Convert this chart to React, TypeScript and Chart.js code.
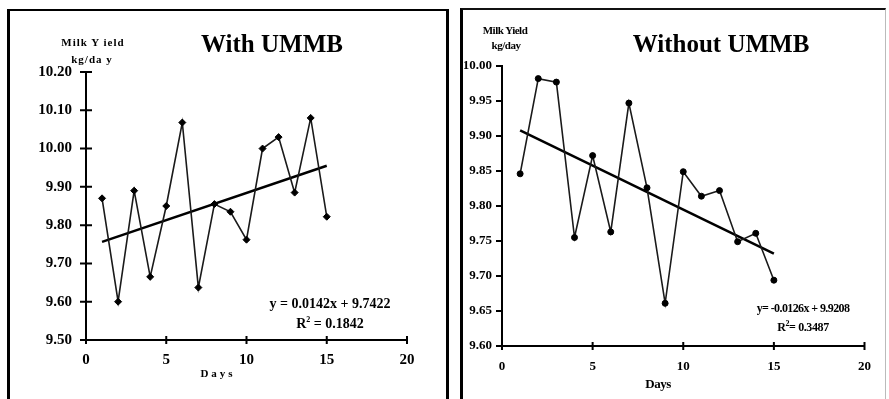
import React, { useEffect, useRef } from "react";
import { Chart, registerables } from "chart.js";

Chart.register(...registerables);

// ---- data ----
const days = [1, 2, 3, 4, 5, 6, 7, 8, 9, 10, 11, 12, 13, 14, 15];
const withUmmb = [9.87, 9.6, 9.89, 9.665, 9.85, 10.068, 9.637, 9.855, 9.835, 9.762, 10.0, 10.03, 9.885, 10.08, 9.822];
const withoutUmmb = [9.846, 9.982, 9.977, 9.755, 9.872, 9.763, 9.947, 9.826, 9.661, 9.849, 9.814, 9.822, 9.749, 9.761, 9.694];

const withSlope = 0.0142;
const withIntercept = 9.7422;
const withR2 = "0.1842";
const withoutSlope = -0.0126;
const withoutIntercept = 9.9208;
const withoutR2 = "0.3487";

const xTicks = [0, 5, 10, 15, 20];
const withYTicks = [9.5, 9.6, 9.7, 9.8, 9.9, 10.0, 10.1, 10.2];
const withoutYTicks = [9.6, 9.65, 9.7, 9.75, 9.8, 9.85, 9.9, 9.95, 10.0];

const SERIF = "'Liberation Serif', 'Times New Roman', serif";

type PanelCfg = {
  values: number[];
  slope: number;
  intercept: number;
  yTicks: number[];
  width: number;
  height: number;
  padding: { left: number; right: number; top: number; bottom: number };
  yWidth: number;
  xHeight: number;
  yLabelPad: number;
  xLabelPad: number;
  yFont: number;
  xFont: number;
  yIn: number;
  yOut: number;
  xIn: number;
  xOut: number;
  pointStyle: string;
  pointRadius: number;
};

function crossTicks(c: PanelCfg) {
  return {
    id: "crossTicks",
    afterDraw(chart: any) {
      const ctx = chart.ctx;
      const xs = chart.scales.x;
      const ys = chart.scales.y;
      const area = chart.chartArea;
      ctx.save();
      ctx.strokeStyle = "#000";
      ctx.lineWidth = 2;
      ctx.beginPath();
      for (const t of c.yTicks) {
        const py = ys.getPixelForValue(t);
        ctx.moveTo(area.left - c.yOut, py);
        ctx.lineTo(area.left + c.yIn, py);
      }
      for (const t of xTicks) {
        const px = xs.getPixelForValue(t);
        ctx.moveTo(px, area.bottom - c.xIn);
        ctx.lineTo(px, area.bottom + c.xOut);
      }
      ctx.stroke();
      ctx.restore();
    },
  };
}

function makeConfig(c: PanelCfg): any {
  const pts = days.map((d, i) => ({ x: d, y: c.values[i] }));
  const first = days[0];
  const last = days[days.length - 1];
  const trend = [
    { x: first, y: c.intercept + c.slope * first },
    { x: last, y: c.intercept + c.slope * last },
  ];
  return {
    type: "scatter",
    data: {
      datasets: [
        {
          data: trend,
          showLine: true,
          borderColor: "#000",
          borderWidth: 2.5,
          pointRadius: 0,
          order: 2,
        },
        {
          data: pts,
          showLine: true,
          borderColor: "#1a1a1a",
          borderWidth: 1.6,
          pointStyle: c.pointStyle,
          pointRadius: c.pointRadius,
          pointBackgroundColor: "#000",
          pointBorderColor: "#000",
          pointBorderWidth: 1,
          order: 1,
        },
      ],
    },
    plugins: [crossTicks(c)],
    options: {
      responsive: false,
      animation: false,
      devicePixelRatio: 1,
      layout: { padding: c.padding },
      plugins: { legend: { display: false }, tooltip: { enabled: false }, title: { display: false } },
      scales: {
        x: {
          type: "linear",
          min: 0,
          max: 20,
          afterFit: (s: any) => {
            s.height = c.xHeight;
          },
          afterBuildTicks: (s: any) => {
            s.ticks = xTicks.map((v) => ({ value: v }));
          },
          grid: { display: false, drawTicks: false },
          border: { display: true, color: "#000", width: 2 },
          ticks: {
            padding: c.xLabelPad,
            color: "#000",
            font: { family: SERIF, size: c.xFont, weight: "bold" },
            callback: (v: any) => String(v),
          },
        },
        y: {
          type: "linear",
          min: c.yTicks[0],
          max: c.yTicks[c.yTicks.length - 1],
          afterFit: (s: any) => {
            s.width = c.yWidth;
          },
          afterBuildTicks: (s: any) => {
            s.ticks = c.yTicks.map((v) => ({ value: v }));
          },
          grid: { display: false, drawTicks: false },
          border: { display: true, color: "#000", width: 2 },
          ticks: {
            padding: c.yLabelPad,
            color: "#000",
            font: { family: SERIF, size: c.yFont, weight: "bold" },
            callback: (v: any) => Number(v).toFixed(2),
          },
        },
      },
    },
  };
}

function ChartCanvas({ cfg, style }: { cfg: PanelCfg; style: React.CSSProperties }) {
  const ref = useRef<HTMLCanvasElement | null>(null);
  useEffect(() => {
    if (!ref.current) return;
    const chart = new Chart(ref.current, makeConfig(cfg));
    return () => chart.destroy();
  }, []);
  return <canvas ref={ref} width={cfg.width} height={cfg.height} style={{ position: "absolute", ...style }} />;
}

const leftCfg: PanelCfg = {
  values: withUmmb,
  slope: withSlope,
  intercept: withIntercept,
  yTicks: withYTicks,
  width: 436,
  height: 387,
  padding: { left: 16, right: 39, top: 60, bottom: 19 },
  yWidth: 60,
  xHeight: 40,
  yLabelPad: 14,
  xLabelPad: 11,
  yFont: 15,
  xFont: 15,
  yIn: 6,
  yOut: 6,
  xIn: 4,
  xOut: 4,
  pointStyle: "rectRot",
  pointRadius: 3.5,
};

const rightCfg: PanelCfg = {
  values: withoutUmmb,
  slope: withoutSlope,
  intercept: withoutIntercept,
  yTicks: withoutYTicks,
  width: 421,
  height: 389,
  padding: { left: 1, right: 12, top: 56, bottom: 13 },
  yWidth: 38,
  xHeight: 40,
  yLabelPad: 10,
  xLabelPad: 13,
  yFont: 13,
  xFont: 13,
  yIn: 1,
  yOut: 6,
  xIn: 4,
  xOut: 4,
  pointStyle: "circle",
  pointRadius: 3,
};

const txt = (extra: React.CSSProperties): React.CSSProperties => ({
  position: "absolute",
  fontFamily: SERIF,
  color: "#000",
  whiteSpace: "nowrap",
  lineHeight: 1,
  transform: "translate(-50%, -50%)",
  ...extra,
});

export default function App() {
  return (
    <div style={{ position: "fixed", left: 0, top: 0, width: 889, height: 399, background: "#fff", overflow: "hidden" }}>
      {/* left panel frame */}
      <div
        style={{
          position: "absolute",
          left: 7,
          top: 9,
          width: 436,
          height: 400,
          borderLeft: "3px solid #000",
          borderTop: "2px solid #000",
          borderRight: "3px solid #000",
        }}
      />
      {/* right panel frame */}
      <div
        style={{
          position: "absolute",
          left: 460,
          top: 8,
          width: 422,
          height: 400,
          borderLeft: "3px solid #000",
          borderTop: "2px solid #111",
          borderRight: "1px solid #bbb",
        }}
      />
      <ChartCanvas cfg={leftCfg} style={{ left: 10, top: 12 }} />
      <ChartCanvas cfg={rightCfg} style={{ left: 463, top: 10 }} />

      {/* left texts */}
      <div style={txt({ left: 272, top: 43, fontSize: 25, fontWeight: "bold" })}>With UMMB</div>
      <div style={txt({ left: 93, top: 42, fontSize: 11, fontWeight: "bold", letterSpacing: 1 })}>Milk Y ield</div>
      <div style={txt({ left: 92, top: 59, fontSize: 11, fontWeight: "bold", letterSpacing: 1 })}>kg/da y</div>
      <div style={txt({ left: 330, top: 304, fontSize: 14, fontWeight: "bold" })}>y = 0.0142x + 9.7422</div>
      <div style={txt({ left: 330, top: 323, fontSize: 14, fontWeight: "bold" })}>
        R<sup style={{ fontSize: 8, verticalAlign: "6px" }}>2</sup> = {withR2}
      </div>
      <div style={txt({ left: 218, top: 373, fontSize: 11, fontWeight: "bold", letterSpacing: 3 })}>Days</div>

      {/* right texts */}
      <div style={txt({ left: 721, top: 43, fontSize: 25, fontWeight: "bold" })}>Without UMMB</div>
      <div style={txt({ left: 505, top: 30, fontSize: 11, fontWeight: "bold", letterSpacing: -0.5 })}>Milk Yield</div>
      <div style={txt({ left: 506, top: 45, fontSize: 11, fontWeight: "bold", letterSpacing: -0.5 })}>kg/day</div>
      <div style={txt({ left: 803, top: 308, fontSize: 12, fontWeight: "bold", letterSpacing: -0.6 })}>y= -0.0126x + 9.9208</div>
      <div style={txt({ left: 803, top: 326, fontSize: 12, fontWeight: "bold", letterSpacing: -0.4 })}>
        R<sup style={{ fontSize: 8, verticalAlign: "5px" }}>2</sup>= {withoutR2}
      </div>
      <div style={txt({ left: 658, top: 383, fontSize: 13, fontWeight: "bold", letterSpacing: -0.5 })}>Days</div>
    </div>
  );
}
